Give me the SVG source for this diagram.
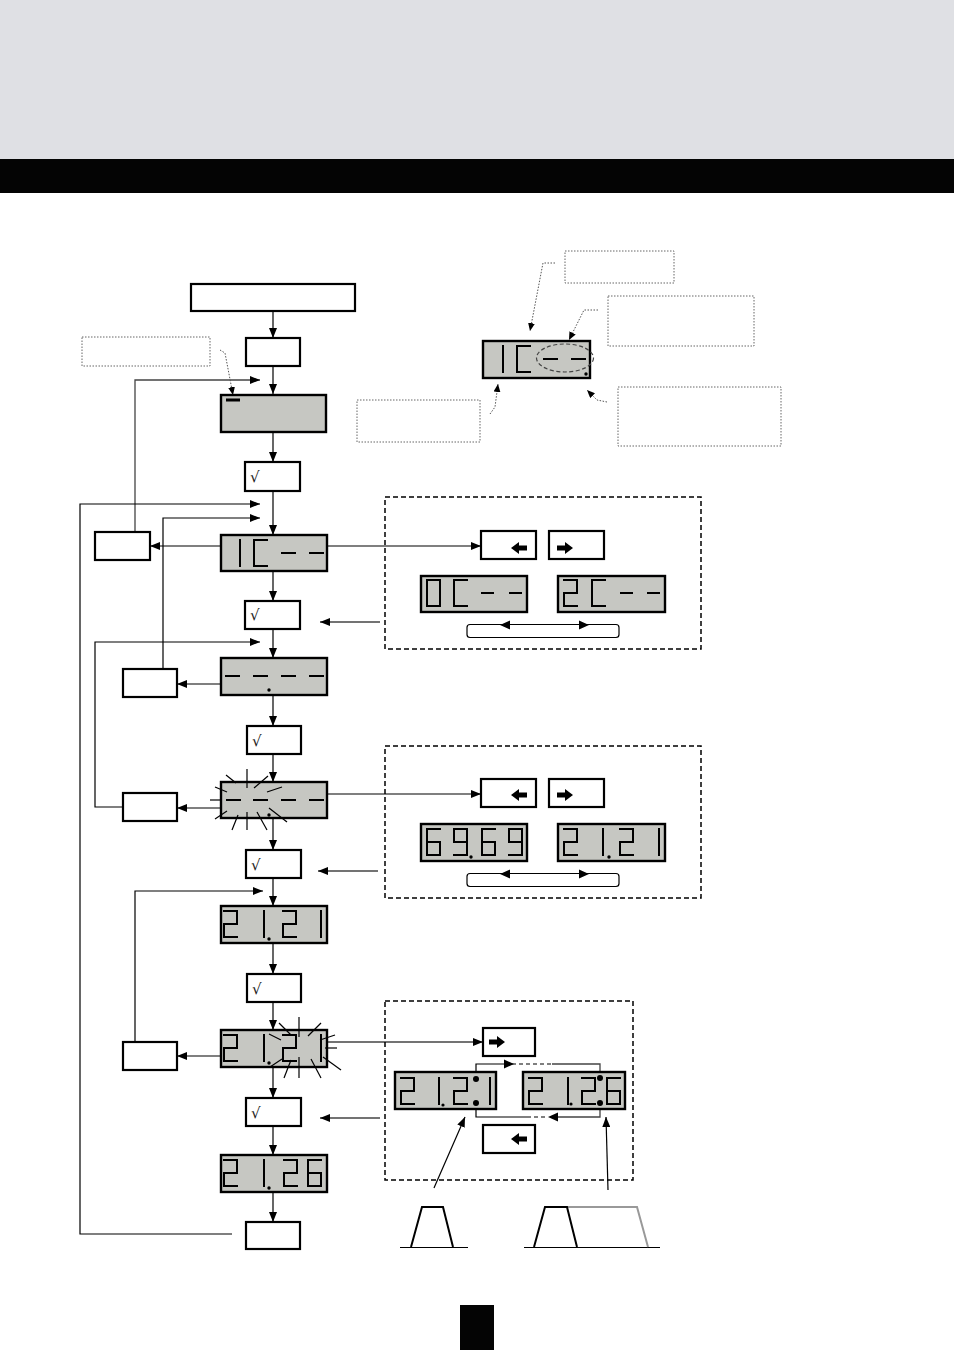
<svg xmlns="http://www.w3.org/2000/svg" xmlns:xlink="http://www.w3.org/1999/xlink" width="954" height="1350" viewBox="0 0 954 1350">
<style>
.box{fill:#fff;stroke:#000;stroke-width:2.2}
.disp{fill:#c6c7c2;stroke:#000;stroke-width:2.4}
.seg{fill:none;stroke:#000;stroke-width:2;stroke-linecap:square;stroke-linejoin:miter}
.ln{fill:none;stroke:#000;stroke-width:1.2}
.lg{fill:none;stroke:#444;stroke-width:1.3}
.dot{fill:#000}
.dotted{fill:none;stroke:#666;stroke-width:1;stroke-dasharray:1.5 1.5}
.lead{fill:none;stroke:#555;stroke-width:1;stroke-dasharray:1.5 1.5}
.dash{fill:none;stroke:#000;stroke-width:1.5;stroke-dasharray:5 3}
.ray{stroke:#000;stroke-width:1.2}
.chk{font-family:"DejaVu Sans",sans-serif;font-size:15px;fill:#222}
</style>
<defs>
<marker id="ah" markerWidth="10" markerHeight="8" refX="10" refY="4" orient="auto" markerUnits="userSpaceOnUse"><path d="M0,0 L10,4 L0,8 Z" fill="#000"/></marker>
<marker id="ahs" markerWidth="8" markerHeight="7" refX="8" refY="3.5" orient="auto" markerUnits="userSpaceOnUse"><path d="M0,0 L8,3.5 L0,7 Z" fill="#000"/></marker>
<path id="g2" d="M0,0 H13 V13 H0 V26 H13"/>
<path id="gC" d="M13,0 H0 V26 H13"/>
<path id="g0" d="M0,0 H13 V26 H0 Z"/>
<path id="g6" d="M13,0 H0 V26 H13 V13 H0"/>
<path id="g9" d="M13,13 H0 V0 H13 V26 H0"/>
<path id="g1" d="M0,0 V26"/>
<path id="gd" d="M0,13 H13"/>
<path id="gs" d="M0,13 H11"/>
<path id="ar" d="M0,-2.5 H8 V-6 L16,0 L8,6 V2.5 H0 Z" fill="#000"/>
<path id="al" d="M16,-2.5 H8 V-6 L0,0 L8,6 V2.5 H16 Z" fill="#000"/>
</defs>

<g id="header">
<rect x="0" y="0" width="954" height="159" fill="#dfe0e4"/>
<rect x="0" y="159" width="954" height="34" fill="#040404"/>
<rect x="460" y="1305" width="34" height="45" fill="#040404"/>
</g>

<g id="connectors">
<line class="ln" x1="273" y1="311" x2="273" y2="338" marker-end="url(#ah)"/>
<line class="ln" x1="273" y1="366" x2="273" y2="394" marker-end="url(#ah)"/>
<line class="ln" x1="273" y1="432" x2="273" y2="462" marker-end="url(#ah)"/>
<line class="ln" x1="273" y1="491" x2="273" y2="535" marker-end="url(#ah)"/>
<line class="ln" x1="273" y1="571" x2="273" y2="601" marker-end="url(#ah)"/>
<line class="ln" x1="273" y1="629" x2="273" y2="658" marker-end="url(#ah)"/>
<line class="ln" x1="273" y1="695" x2="273" y2="726" marker-end="url(#ah)"/>
<line class="ln" x1="273" y1="754" x2="273" y2="782" marker-end="url(#ah)"/>
<line class="ln" x1="273" y1="818" x2="273" y2="850" marker-end="url(#ah)"/>
<line class="ln" x1="273" y1="878" x2="273" y2="906" marker-end="url(#ah)"/>
<line class="ln" x1="273" y1="943" x2="273" y2="974" marker-end="url(#ah)"/>
<line class="ln" x1="273" y1="1002" x2="273" y2="1030" marker-end="url(#ah)"/>
<line class="ln" x1="273" y1="1067" x2="273" y2="1098" marker-end="url(#ah)"/>
<line class="ln" x1="273" y1="1126" x2="273" y2="1155" marker-end="url(#ah)"/>
<line class="ln" x1="273" y1="1192" x2="273" y2="1222" marker-end="url(#ah)"/>

<polyline class="lg" points="135,532 135,380 260,380" marker-end="url(#ah)"/>
<polyline class="ln" points="232,1234 80,1234 80,504 260,504" marker-end="url(#ah)"/>
<polyline class="ln" points="163,669 163,518 260,518" marker-end="url(#ah)"/>
<polyline class="ln" points="123,807 95,807 95,642 260,642" marker-end="url(#ah)"/>
<polyline class="ln" points="135,1042 135,891 263,891" marker-end="url(#ah)"/>

<line class="ln" x1="221" y1="546" x2="150" y2="546" marker-end="url(#ah)"/>
<line class="ln" x1="221" y1="684" x2="177" y2="684" marker-end="url(#ah)"/>
<line class="ln" x1="221" y1="808" x2="177" y2="808" marker-end="url(#ah)"/>
<line class="ln" x1="221" y1="1056" x2="177" y2="1056" marker-end="url(#ah)"/>

<line class="ln" x1="327" y1="546" x2="481" y2="546" marker-end="url(#ah)"/>
<line class="ln" x1="327" y1="794" x2="481" y2="794" marker-end="url(#ah)"/>
<line class="lg" x1="327" y1="1042" x2="483" y2="1042" marker-end="url(#ah)"/>

<line class="lg" x1="380" y1="622" x2="320" y2="622" marker-end="url(#ah)"/>
<line class="lg" x1="378" y1="871" x2="318" y2="871" marker-end="url(#ah)"/>
<line class="lg" x1="380" y1="1118" x2="320" y2="1118" marker-end="url(#ah)"/>

<polyline class="lead" points="220,350 225,353 233,395" marker-end="url(#ahs)"/>
<polyline class="lead" points="555,263 543,263 530,331" marker-end="url(#ahs)"/>
<polyline class="lead" points="598,310 584,310 569,340" marker-end="url(#ahs)"/>
<polyline class="lead" points="490,414 495,407 498,384" marker-end="url(#ahs)"/>
<polyline class="lead" points="607,402 597,400 587,390" marker-end="url(#ahs)"/>

<polyline class="ln" points="476,1079 476,1064 512,1064"/>
<line class="ln" x1="512" y1="1064" x2="552" y2="1064" stroke-dasharray="4 3"/>
<polyline class="lg" points="552,1064 600,1064 600,1078"/>
<path d="M514,1064 L504,1059.5 L504,1068.5 Z" fill="#000"/>
<polyline class="ln" points="476,1103 476,1117 527,1117"/>
<line class="ln" x1="527" y1="1117" x2="548" y2="1117" stroke-dasharray="4 3"/>
<polyline class="lg" points="557,1117 600,1117 600,1104"/>
<path d="M548,1117 L558,1112.5 L558,1121.5 Z" fill="#000"/>

<line class="ln" x1="434" y1="1188" x2="465" y2="1117" marker-end="url(#ah)"/>
<line class="ln" x1="608" y1="1190" x2="606" y2="1117" marker-end="url(#ah)"/>
</g>

<g id="n-start"><rect class="box" x="191" y="284" width="164" height="27"/></g>
<g id="n-box2"><rect class="box" x="246" y="338" width="54" height="28"/></g>
<g id="n-note1"><rect class="dotted" x="82" y="337" width="128" height="29"/></g>
<g id="n-blank">
<rect class="disp" x="221" y="395" width="105" height="37"/>
<rect x="226" y="398.5" width="14" height="3" fill="#000"/>
</g>
<g id="n-ok1"><rect class="box" x="245" y="462" width="55" height="29"/><text class="chk" x="250" y="482">√</text></g>

<g id="n-disp1">
<rect class="disp" x="221" y="535" width="106" height="36"/>
<g class="seg"><use xlink:href="#g1" x="240" y="540"/><use xlink:href="#gC" x="254" y="540"/><use xlink:href="#gd" x="282" y="540"/><use xlink:href="#gd" x="310" y="540"/></g>
</g>
<g id="n-side1"><rect class="box" x="95" y="532" width="55" height="28"/></g>
<g id="n-ok2"><rect class="box" x="245" y="601" width="55" height="28"/><text class="chk" x="250" y="620">√</text></g>

<g id="n-disp2">
<rect class="disp" x="221" y="658" width="106" height="37"/>
<g class="seg"><use xlink:href="#gd" x="226" y="663"/><use xlink:href="#gd" x="254" y="663"/><use xlink:href="#gd" x="282" y="663"/><use xlink:href="#gd" x="310" y="663"/></g>
<circle class="dot" cx="269" cy="690" r="1.7"/>
</g>
<g id="n-side2"><rect class="box" x="123" y="669" width="54" height="28"/></g>
<g id="n-ok3"><rect class="box" x="247" y="726" width="54" height="28"/><text class="chk" x="252" y="746">√</text></g>

<g id="n-disp3">
<rect class="disp" x="221" y="782" width="106" height="36"/>
<g class="seg"><use xlink:href="#gd" x="227" y="787"/><use xlink:href="#gd" x="254" y="787"/><use xlink:href="#gd" x="282" y="787"/><use xlink:href="#gd" x="310" y="787"/></g>
<circle class="dot" cx="269" cy="815" r="1.7"/>
<g class="ray">
<line x1="226" y1="775" x2="236" y2="783"/>
<line x1="247" y1="769" x2="247" y2="788"/>
<line x1="254" y1="788" x2="268" y2="776"/>
<line x1="267" y1="792" x2="282" y2="787"/>
<line x1="215" y1="787" x2="227" y2="792"/>
<line x1="210" y1="800" x2="222" y2="800"/>
<line x1="215" y1="819" x2="227" y2="811"/>
<line x1="232" y1="830" x2="238" y2="815"/>
<line x1="247" y1="812" x2="247" y2="830"/>
<line x1="257" y1="812" x2="267" y2="830"/>
<line x1="269" y1="808" x2="287" y2="822"/>
</g>
</g>
<g id="n-side3"><rect class="box" x="123" y="793" width="54" height="28"/></g>
<g id="n-ok4"><rect class="box" x="246" y="850" width="55" height="28"/><text class="chk" x="251" y="870">√</text></g>

<g id="n-disp4">
<rect class="disp" x="221" y="906" width="106" height="37"/>
<g class="seg"><use xlink:href="#g2" x="224" y="911"/><use xlink:href="#g1" x="264" y="911"/><use xlink:href="#g2" x="283" y="911"/><use xlink:href="#g1" x="321" y="911"/></g>
<circle class="dot" cx="269" cy="939" r="1.7"/>
</g>
<g id="n-ok5"><rect class="box" x="247" y="974" width="54" height="28"/><text class="chk" x="252" y="994">√</text></g>

<g id="n-disp5">
<rect class="disp" x="221" y="1030" width="106" height="37"/>
<g class="seg"><use xlink:href="#g2" x="224" y="1035"/><use xlink:href="#g1" x="264" y="1035"/><use xlink:href="#g2" x="283" y="1035"/><use xlink:href="#g1" x="321" y="1035"/></g>
<circle class="dot" cx="269" cy="1063" r="1.7"/>
<g class="ray">
<line x1="279" y1="1023" x2="291" y2="1035"/>
<line x1="299" y1="1017" x2="299" y2="1037"/>
<line x1="308" y1="1036" x2="321" y2="1023"/>
<line x1="320" y1="1040" x2="335" y2="1035"/>
<line x1="325" y1="1048" x2="337" y2="1048"/>
<line x1="323" y1="1057" x2="341" y2="1070"/>
<line x1="311" y1="1059" x2="321" y2="1078"/>
<line x1="299" y1="1057" x2="299" y2="1078"/>
<line x1="291" y1="1060" x2="284" y2="1078"/>
<line x1="282" y1="1059" x2="270" y2="1067"/>
<line x1="269" y1="1034" x2="281" y2="1040"/>
</g>
</g>
<g id="n-side4"><rect class="box" x="123" y="1042" width="54" height="28"/></g>
<g id="n-ok6"><rect class="box" x="246" y="1098" width="55" height="28"/><text class="chk" x="251" y="1118">√</text></g>

<g id="n-disp6">
<rect class="disp" x="221" y="1155" width="106" height="37"/>
<g class="seg"><use xlink:href="#g2" x="224" y="1160"/><use xlink:href="#g1" x="264" y="1160"/><use xlink:href="#g2" x="284" y="1160"/><use xlink:href="#g6" x="308" y="1160"/></g>
<circle class="dot" cx="269" cy="1188" r="1.7"/>
</g>
<g id="n-end"><rect class="box" x="246" y="1222" width="54" height="27"/></g>

<g id="n-legend">
<rect class="dotted" x="565" y="251" width="109" height="32"/>
<rect class="dotted" x="608" y="296" width="146" height="50"/>
<rect class="dotted" x="618" y="387" width="163" height="59"/>
<rect class="dotted" x="357" y="400" width="123" height="42"/>
<rect class="disp" x="483" y="341" width="107" height="37"/>
<g class="seg"><use xlink:href="#g1" x="503" y="346"/><use xlink:href="#gC" x="517" y="346"/><use xlink:href="#gd" x="544" y="346"/><use xlink:href="#gd" x="572" y="346"/></g>
<circle class="dot" cx="586" cy="374" r="1.7"/>
<ellipse cx="565" cy="358" rx="28.5" ry="14" fill="none" stroke="#444" stroke-width="1.2" stroke-dasharray="4 2.5"/>
</g>

<g id="n-panel1">
<rect class="dash" x="385" y="497" width="316" height="152"/>
<rect class="box" x="481" y="531" width="55" height="28"/>
<use xlink:href="#al" x="511" y="548"/>
<rect class="box" x="549" y="531" width="55" height="28"/>
<use xlink:href="#ar" x="557" y="548"/>
<rect class="disp" x="421" y="576" width="106" height="36"/>
<g class="seg"><use xlink:href="#g0" x="427" y="580"/><use xlink:href="#gC" x="454" y="580"/><use xlink:href="#gs" x="482" y="580"/><use xlink:href="#gs" x="510" y="580"/></g>
<rect class="disp" x="558" y="576" width="107" height="36"/>
<g class="seg"><use xlink:href="#g2" x="564" y="580"/><use xlink:href="#gC" x="592" y="580"/><use xlink:href="#gs" x="621" y="580"/><use xlink:href="#gs" x="648" y="580"/></g>
<rect x="467" y="624.5" width="152" height="13" rx="3" fill="#fff" stroke="#000" stroke-width="1.2"/>
<path d="M500,625 L510,620.5 L510,629.5 Z M589,625 L579,620.5 L579,629.5 Z" fill="#000"/>
</g>

<g id="n-panel2">
<rect class="dash" x="385" y="746" width="316" height="152"/>
<rect class="box" x="481" y="779" width="55" height="28"/>
<use xlink:href="#al" x="511" y="795"/>
<rect class="box" x="549" y="779" width="55" height="28"/>
<use xlink:href="#ar" x="557" y="795"/>
<rect class="disp" x="421" y="824" width="106" height="37"/>
<g class="seg"><use xlink:href="#g6" x="427" y="829"/><use xlink:href="#g9" x="454" y="829"/><use xlink:href="#g6" x="482" y="829"/><use xlink:href="#g9" x="509" y="829"/></g>
<circle class="dot" cx="471" cy="857" r="1.7"/>
<rect class="disp" x="558" y="824" width="107" height="37"/>
<g class="seg"><use xlink:href="#g2" x="564" y="829"/><use xlink:href="#g1" x="603" y="829"/><use xlink:href="#g2" x="620" y="829"/><use xlink:href="#g1" x="659" y="829"/></g>
<circle class="dot" cx="609" cy="857" r="1.7"/>
<rect x="467" y="873.5" width="152" height="13" rx="3" fill="#fff" stroke="#000" stroke-width="1.2"/>
<path d="M500,874 L510,869.5 L510,878.5 Z M589,874 L579,869.5 L579,878.5 Z" fill="#000"/>
</g>

<g id="n-panel3">
<rect class="dash" x="385" y="1001" width="248" height="179"/>
<rect class="box" x="483" y="1028" width="52" height="28"/>
<use xlink:href="#ar" x="489" y="1042"/>
<rect class="box" x="483" y="1125" width="52" height="28"/>
<use xlink:href="#al" x="511" y="1139"/>
<rect class="disp" x="395" y="1072" width="101" height="37"/>
<g class="seg"><use xlink:href="#g2" x="401" y="1078"/><use xlink:href="#g1" x="439" y="1078"/><use xlink:href="#g2" x="454" y="1078"/><use xlink:href="#g1" x="490" y="1078"/></g>
<circle class="dot" cx="443" cy="1105" r="1.6"/>
<rect class="disp" x="523" y="1072" width="102" height="37"/>
<g class="seg"><use xlink:href="#g2" x="529" y="1078"/><use xlink:href="#g1" x="568" y="1078"/><use xlink:href="#g2" x="582" y="1078"/><use xlink:href="#g6" x="607" y="1078"/></g>
<circle class="dot" cx="571" cy="1104" r="1.6"/>
<circle class="dot" cx="476" cy="1079" r="3"/>
<circle class="dot" cx="476" cy="1103" r="3"/>
<circle class="dot" cx="600" cy="1078" r="3"/>
<circle class="dot" cx="600" cy="1103" r="3"/>
</g>

<g id="n-pulse1">
<line x1="400" y1="1247.5" x2="468" y2="1247.5" stroke="#000" stroke-width="1.2"/>
<path d="M411,1247 L422,1207 L443,1207 L453,1247" fill="none" stroke="#000" stroke-width="2"/>
</g>
<g id="n-pulse2">
<line x1="524" y1="1247.5" x2="660" y2="1247.5" stroke="#000" stroke-width="1.2"/>
<path d="M567,1207 L637,1207 L648,1247" fill="none" stroke="#999" stroke-width="2"/>
<path d="M534,1247 L545,1207 L567,1207 L577,1247" fill="none" stroke="#000" stroke-width="2"/>
</g>
</svg>
